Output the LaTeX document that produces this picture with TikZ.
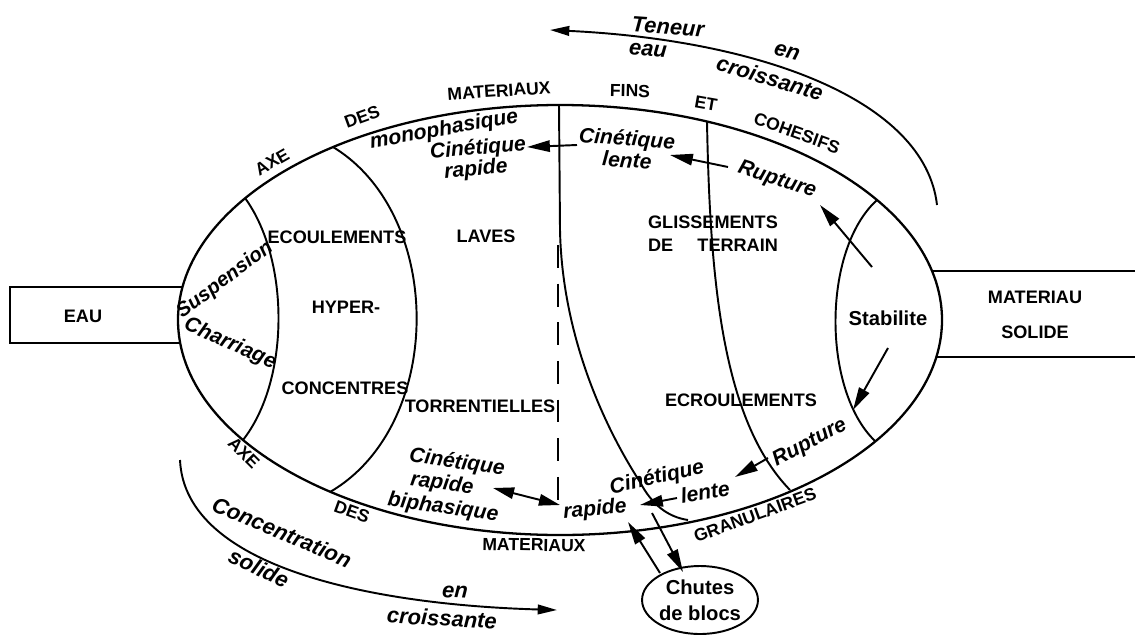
\documentclass[tikz,border=0pt]{standalone}
\usepackage{fontspec}
\setmainfont{Liberation Sans}
\usetikzlibrary{arrows.meta,shapes.geometric}

\begin{document}
\begin{tikzpicture}[x=0.02cm,y=-0.02cm,
  every node/.style={inner sep=1pt},
  caps/.style={font=\fontsize{10.3}{12}\selectfont\bfseries},
  rim/.style={font=\fontsize{10}{12}\selectfont\bfseries},
  kin/.style={font=\fontsize{12}{12}\selectfont\bfseries\itshape},
  trend/.style={font=\fontsize{12.5}{13}\selectfont\bfseries\itshape},
  bound/.style={line width=1.1pt},
  arr/.style={-{Triangle[length=13pt,width=6.5pt]},line width=1.1pt},
  dblarr/.style={{Triangle[length=12pt,width=6.5pt]}-{Triangle[length=12pt,width=6.5pt]},line width=1.1pt},
  trendarr/.style={-{Triangle[length=11pt,width=5.5pt]},line width=1.1pt}
]
\useasboundingbox (0,0) rectangle (1135,636);

% side boxes (inner ends hidden by the oval)
\draw[bound] (200,287) -- (10,287) -- (10,343) -- (200,343);
\draw[bound] (920,271) -- (1135,271);
\draw[bound] (920,357) -- (1135,357);
\node[caps] (eau) at (83,316) {EAU};
\node[caps,align=center] (solid) at (1035,315) {MATERIAU\\[8pt]SOLIDE};

% the oval
\draw[line width=1.3pt,fill=white] (560,320) ellipse [x radius=382,y radius=215];

% domain boundaries
\draw[bound] (245,198) .. controls (290,260) and (290,380) .. (243,440);
\draw[bound] (333,147) .. controls (445,215) and (445,425) .. (330,492);
\draw[bound] (559,105) -- (560,230) .. controls (562,330) and (600,420) .. (640,482) .. controls (652,505) and (668,517) .. (688,520);
\draw[bound,dash pattern=on 13pt off 9pt] (558,245) -- (558,507);
\draw[bound] (707,122) .. controls (710,280) and (722,420) .. (790,490);
\draw[bound] (877,200) .. controls (822,250) and (822,390) .. (875,441);

% axis labels on the rim
\node[rim,rotate=30] (axe1) at (272,162) {AXE};
\node[rim,rotate=20] (des1) at (362,117) {DES};
\node[rim,rotate=4] (mat1) at (499,91) {MATERIAUX};
\node[rim,rotate=-1] (fins) at (630,91) {FINS};
\node[rim,rotate=-10] (et) at (706,103) {ET};
\node[rim,rotate=-20] (coh) at (797,133) {COHESIFS};
\node[rim,rotate=-45] (axe2) at (244,453) {AXE};
\node[rim,rotate=-20] (des2) at (352,512) {DES};
\node[rim,rotate=-1] (mat2) at (534,545) {MATERIAUX};
\node[rim,rotate=20] (gran) at (755,515) {GRANULAIRES};

% phenomena
\node[caps] (ecoul) at (337,237) {ECOULEMENTS};
\node[caps] (hyper) at (346,307) {HYPER-};
\node[caps] (conc) at (345,388) {CONCENTRES};
\node[caps] (laves) at (486,236) {LAVES};
\node[caps] (torr) at (480,406) {TORRENTIELLES};
\node[caps] (gliss) at (713,222) {GLISSEMENTS};
\node[caps] (terr) at (713,245) {\makebox[7.17em][s]{DE\hfill TERRAIN}};
\node[caps] (ecroul) at (741,400) {ECROULEMENTS};
\node[kin,rotate=37,font=\fontsize{11.5}{12}\selectfont\bfseries\itshape] (susp) at (225,280) {Suspension};
\node[kin,rotate=-24] (charr) at (230,344) {Charriage};
\node[font=\fontsize{11.5}{12}\selectfont\bfseries] (stab) at (888,318) {Stabilite};

% kinetics
\node[kin,rotate=10] (mono) at (444,130) {monophasique};
\node[kin,rotate=5] (cr1a) at (478,149) {Cinétique};
\node[kin,rotate=5] (cr1b) at (476,170) {rapide};
\node[kin,rotate=-4] (cl1a) at (627,140) {Cinétique};
\node[kin,rotate=-4] (cl1b) at (627,160) {lente};
\node[kin,rotate=-18] (rup1) at (777,180) {Rupture};
\node[kin,rotate=28] (rup2) at (810,443) {Rupture};
\node[kin,rotate=13] (cl2a) at (657,478) {Cinétique};
\node[kin,rotate=10] (cl2b) at (705,492) {lente};
\node[kin,rotate=5] (rap2) at (595,510) {rapide};
\node[kin,rotate=-8] (crba) at (457,463) {Cinétique};
\node[kin,rotate=-8] (crbb) at (442,484) {rapide};
\node[kin,rotate=-8] (crbc) at (443,508) {biphasique};
\node[draw,ellipse,line width=1.1pt,minimum width=2.3cm,minimum height=1.36cm,inner sep=0pt,align=center,
  font=\fontsize{11.5}{15}\selectfont\bfseries] (chutes) at (700,600) {Chutes\\de blocs};

\draw[arr] ([shift={(-50,5)}]cl1a.center) -- ([shift={(49,-2)}]cr1a.center);
\draw[arr] ([shift={(-49,-13)}]rup1.center) -- ([shift={(43,-5)}]cl1b.center);
\draw[arr] ([shift={(-16,-51)}]stab.center) -- ([shift={(43,25)}]rup1.center);
\draw[arr] ([shift={(0,30)}]stab.center) -- ([shift={(43,-33)}]rup2.center);
\draw[arr] ([shift={(-42,15)}]rup2.center) -- ([shift={(30,-15)}]cl2b.center);
\draw[arr] ([shift={(-28,6)}]cl2b.center) -- ([shift={(45,-5)}]rap2.center);
\draw[dblarr] ([shift={(51,4)}]crbb.center) -- ([shift={(-35,-5)}]rap2.center);
\draw[arr] ([shift={(-40,-27)}]chutes.center) -- ([shift={(33,12)}]rap2.center);
\draw[arr] ([shift={(57,3)}]rap2.center) -- ([shift={(-17,-28)}]chutes.center);

% trends
\node[trend,rotate=-4] (ten) at (668,27) {Teneur};
\node[trend,rotate=-5] (eau2) at (648,50) {eau};
\node[trend,rotate=-15] (en1) at (787,52) {en};
\node[trend,rotate=-17] (crois1) at (770,78) {croissante};
\coordinate (tenFrom) at (937,205);
\coordinate (tenTo) at (550,30);
\draw[trendarr] (tenFrom) .. controls (925,100) and (760,40) .. (tenTo);

\node[trend,rotate=-23] (concen) at (282,532) {Concentration};
\node[trend,rotate=-25] (sol) at (259,568) {solide};
\node[trend,rotate=-3] (en2) at (455,592) {en};
\node[trend,rotate=-3] (crois2) at (442,618) {croissante};
\coordinate (concFrom) at (180,460);
\coordinate (concTo) at (557,610);
\draw[trendarr] (concFrom) .. controls (185,570) and (380,605) .. (concTo);
\end{tikzpicture}
\end{document}
